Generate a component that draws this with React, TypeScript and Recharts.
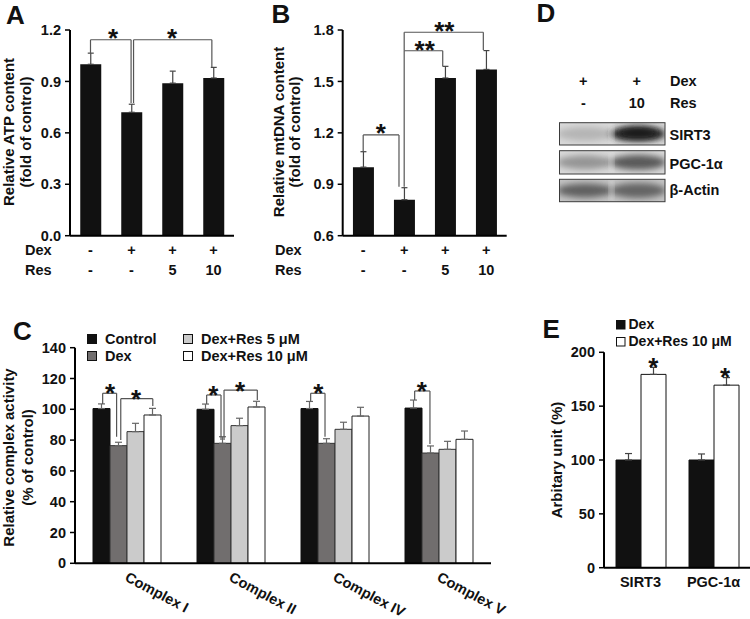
import React from "react";
import {
  BarChart,
  Bar,
  XAxis,
  YAxis,
  ErrorBar,
  ReferenceLine,
  ReferenceDot,
  Legend,
} from "recharts";

const FONT = "Arial, 'Liberation Sans', Helvetica, sans-serif";
const INK = "#111";
const LINE = "#555";

// ---- A / B : treatment groups ----
const treatments = ["Control", "Dex", "Dex+Res5", "Dex+Res10"];
const dexRow = ["-", "+", "+", "+"];
const resRow = ["-", "-", "5", "10"];

const atpMean = [1.0, 0.72, 0.89, 0.92];
const atpErr = [0.065, 0.047, 0.07, 0.062];
const atpTicks = [0, 0.3, 0.6, 0.9, 1.2];

const mtdnaMean = [1.0, 0.81, 1.52, 1.57];
const mtdnaErr = [0.09, 0.07, 0.068, 0.11];
const mtdnaTicks = [0.6, 0.9, 1.2, 1.5, 1.8];

// ---- C : complex activity ----
const complexes = ["Complex I", "Complex II", "Complex IV", "Complex V"];
const ctrlMean = [100.5, 100, 100.5, 100.8];
const ctrlErr = [3, 3.4, 4.6, 5.2];
const dexMean = [76.4, 77.9, 77.9, 71.6];
const dexErr = [2.2, 4.3, 3, 4.6];
const res5Mean = [85.5, 89.4, 87, 74];
const res5Err = [5.4, 4.8, 4.6, 5.2];
const res10Mean = [96.3, 101.5, 95.6, 80.5];
const res10Err = [4.3, 3.7, 5.7, 5.4];
const complexTicks = [0, 20, 40, 60, 80, 100, 120, 140];
const complexKeys = ["ctrl", "dex", "r5", "r10"];

// ---- E : densitometry ----
const proteins = ["SIRT3", "PGC-1α"];
const eDexMean = [100, 100];
const eDexErr = [6, 5.6];
const eResMean = [179.5, 169.5];
const eResErr = [6.5, 7];
const eTicks = [0, 50, 100, 150, 200];

// ---- D : blot ----
const blotRows = ["SIRT3", "PGC-1α", "β-Actin"];
const blotLane1 = [0.18, 0.35, 0.62];
const blotLane2 = [0.92, 0.66, 0.6];

// significance marks, x in category slots (0..n), y in data units
// bracket: [xLeft, yLeftFoot, yTop, xRight, yRightFoot]
const atpBrackets = [
  [0.5, 1.064, 1.143, 1.49, 0.774],
  [1.55, 0.774, 1.143, 3.46, 0.984],
];
const atpStars: [number, number, string][] = [
  [1.05, 1.183, "*"],
  [2.49, 1.183, "*"],
];
const mtdnaBrackets = [
  [0.5, 1.09, 1.188, 1.373, 0.886],
  [1.5, 0.886, 1.679, 2.44, 1.59],
  [1.5, 1.679, 1.787, 3.43, 1.683],
];
const mtdnaStars: [number, number, string][] = [
  [0.93, 1.23, "*"],
  [2.0, 1.718, "**"],
  [2.48, 1.825, "**"],
];
const complexBrackets = [
  [0.266, 103.4, 110.4, 0.4, 82.2],
  [0.44, 80.1, 106.9, 0.748, 102.1],
  [1.266, 103.4, 109.3, 1.404, 80.1],
  [1.433, 80.1, 112.5, 1.753, 106],
  [2.266, 105.2, 110.4, 2.404, 82.2],
  [3.266, 106, 111.9, 3.413, 77.5],
];
const complexStars: [number, number, string][] = [
  [0.337, 114.5, "*"],
  [0.587, 110.6, "*"],
  [1.33, 113.2, "*"],
  [1.587, 115.8, "*"],
  [2.34, 114, "*"],
  [3.334, 115.8, "*"],
];
const eStars: [number, number, string][] = [
  [0.675, 191.3, "*"],
  [1.66, 182, "*"],
];

const atpData = treatments.map((t, i) => ({ t, slot: i, v: atpMean[i], e: [0, atpErr[i]] }));
const mtdnaData = treatments.map((t, i) => ({ t, slot: i, v: mtdnaMean[i], e: [0, mtdnaErr[i]] }));
const complexData = complexes.map((c, i) => ({
  c,
  slot: i,
  ctrl: ctrlMean[i],
  ctrlE: [0, ctrlErr[i]],
  dex: dexMean[i],
  dexE: [0, dexErr[i]],
  r5: res5Mean[i],
  r5E: [0, res5Err[i]],
  r10: res10Mean[i],
  r10E: [0, res10Err[i]],
}));
const eData = proteins.map((p, i) => ({
  p,
  slot: i,
  dex: eDexMean[i],
  dexE: [0, eDexErr[i]],
  res: eResMean[i],
  resE: [0, eResErr[i]],
}));

const txt = { fontFamily: FONT, fontWeight: "bold" as const, fill: INK };
const tickStyle = { fontSize: 14.5, fontWeight: "bold", fill: INK, fontFamily: FONT };
const axisLine = { stroke: "#000", strokeWidth: 2 };
const tickLine = { stroke: "#000", strokeWidth: 1.5 };

function brackets(list: number[][], id: string) {
  return list.flatMap(([x1, y1, yt, x2, y2], i) => [
    <ReferenceLine key={`${id}${i}a`} xAxisId="n" segment={[{ x: x1, y: y1 }, { x: x1, y: yt }]} stroke={LINE} strokeWidth={1.2} ifOverflow="visible" />,
    <ReferenceLine key={`${id}${i}b`} xAxisId="n" segment={[{ x: x1, y: yt }, { x: x2, y: yt }]} stroke={LINE} strokeWidth={1.2} ifOverflow="visible" />,
    <ReferenceLine key={`${id}${i}c`} xAxisId="n" segment={[{ x: x2, y: yt }, { x: x2, y: y2 }]} stroke={LINE} strokeWidth={1.2} ifOverflow="visible" />,
  ]);
}

function stars(list: [number, number, string][], id: string, size = 26) {
  return list.map(([x, y, s], i) => (
    <ReferenceDot
      key={`${id}s${i}`}
      xAxisId="n"
      x={x}
      y={y}
      r={0}
      ifOverflow="visible"
      shape={(p: any) => (
        <text x={p.cx} y={p.cy + size * 0.56} textAnchor="middle" fontSize={size} {...txt}>
          {s}
        </text>
      )}
    />
  ));
}

const DoseTick = (p: any) => (
  <g>
    <text x={p.x} y={p.y + 19} textAnchor="middle" fontSize={14.5} {...txt}>
      {dexRow[p.index]}
    </text>
    <text x={p.x} y={p.y + 39} textAnchor="middle" fontSize={14.5} {...txt}>
      {resRow[p.index]}
    </text>
  </g>
);

const ComplexTick = (p: any) => (
  <text transform={`translate(${p.x - 3},${p.y + 17}) rotate(28)`} fontSize={14.5} {...txt}>
    {p.payload.value}
  </text>
);

const ProteinTick = (p: any) => (
  <text x={p.x} y={p.y + 19} textAnchor="middle" fontSize={14.5} {...txt}>
    {p.payload.value}
  </text>
);

function DoseChart({ data, domain, ticks, br, st, yWidth, right, id }: any) {
  return (
    <BarChart width={yWidth + 164 + right} height={300} data={data} margin={{ top: 30, right, bottom: 14.3, left: 0 }} barCategoryGap="25%">
      <XAxis dataKey="t" height={50} axisLine={axisLine} tickLine={false} tickSize={0} tickMargin={0} tick={DoseTick} interval={0} />
      <XAxis xAxisId="n" dataKey="slot" type="number" domain={[0, 4]} hide allowDataOverflow />
      <YAxis
        width={yWidth}
        domain={domain}
        ticks={ticks}
        allowDataOverflow
        tickFormatter={(v: number) => v.toFixed(1)}
        tick={tickStyle}
        axisLine={axisLine}
        tickLine={tickLine}
        tickSize={5}
        tickMargin={4}
      />
      <Bar dataKey="v" fill={INK} isAnimationActive={false}>
        <ErrorBar dataKey="e" width={3} stroke="#444" strokeWidth={1.2} direction="y" />
      </Bar>
      {brackets(br, id)}
      {stars(st, id)}
    </BarChart>
  );
}

const legendC = (props: any) => {
  const items = [...(props.payload || [])].sort(
    (a: any, b: any) => complexKeys.indexOf(a.dataKey) - complexKeys.indexOf(b.dataKey)
  );
  return (
    <svg width={510} height={70} style={{ display: "block", overflow: "visible" }}>
      {items.map((it: any, i: number) => {
        const col = Math.floor(i / 2);
        const row = i % 2;
        const x = col === 0 ? 87.5 : 183.5;
        const y = row === 0 ? 43.5 : 60.5;
        return (
          <g key={i}>
            <rect x={x} y={y - 9} width={9} height={9} fill={it.color} stroke="#111" strokeWidth={1} />
            <text x={x + 17.5} y={y} fontSize={14.5} {...txt}>
              {it.value}
            </text>
          </g>
        );
      })}
    </svg>
  );
};

const legendE = (props: any) => {
  const items = [...(props.payload || [])].sort((a: any, b: any) => (a.dataKey === "dex" ? -1 : 1) - (b.dataKey === "dex" ? -1 : 1));
  return (
    <svg width={220} height={60} style={{ display: "block", overflow: "visible" }}>
      {items.map((it: any, i: number) => {
        const y = i === 0 ? 29 : 46;
        return (
          <g key={i}>
            <rect x={86.5} y={y - 8.5} width={8.5} height={8.5} fill={it.color} stroke="#111" strokeWidth={1} />
            <text x={98.5} y={y} fontSize={14} {...txt}>
              {it.value}
            </text>
          </g>
        );
      })}
    </svg>
  );
};

function Blot() {
  const boxes = [
    [122.7, 145],
    [150.7, 174],
    [179.3, 201.7],
  ];
  const x0 = 559.5;
  const x1 = 665;
  const shade = (k: number) => {
    const g = Math.round(215 - k * 190);
    return `rgb(${g},${g},${g})`;
  };
  return (
    <g>
      <defs>
        <filter id="blur" x="-30%" y="-60%" width="160%" height="220%">
          <feGaussianBlur stdDeviation="3.2" />
        </filter>
        {boxes.map(([a, b], i) => (
          <clipPath key={i} id={`clip${i}`}>
            <rect x={x0} y={a} width={x1 - x0} height={b - a} />
          </clipPath>
        ))}
      </defs>
      {boxes.map(([a, b], i) => {
        const cy = (a + b) / 2;
        const bg = i === 2 ? "#c4c4c4" : "#d9d9d9";
        return (
          <g key={i}>
            <g clipPath={`url(#clip${i})`}>
              <rect x={x0} y={a} width={x1 - x0} height={b - a} fill={bg} />
              <ellipse cx={585} cy={cy} rx={28} ry={7} fill={shade(blotLane1[i])} filter="url(#blur)" />
              <ellipse cx={638} cy={cy} rx={28} ry={7.5} fill={shade(blotLane2[i])} filter="url(#blur)" />
              {i === 0 && <ellipse cx={638} cy={cy - 1} rx={20} ry={4.5} fill="#1a1a1a" filter="url(#blur)" />}
              <rect x={609.5} y={a} width={4} height={b - a} fill="#e6e6e6" opacity={0.6} filter="url(#blur)" />
            </g>
            <rect x={x0} y={a} width={x1 - x0} height={b - a} fill="none" stroke="#3a3a3a" strokeWidth={1} />
          </g>
        );
      })}
    </g>
  );
}

export default function App() {
  return (
    <div style={{ position: "absolute", left: 0, top: 0, width: 750, height: 619, background: "#fff", overflow: "hidden" }}>
      <div style={{ position: "absolute", left: 0, top: 0 }}>
        <DoseChart data={atpData} domain={[0, 1.2]} ticks={atpTicks} br={atpBrackets} st={atpStars} yWidth={70} right={16} id="a" />
      </div>
      <div style={{ position: "absolute", left: 250, top: 0 }}>
        <DoseChart data={mtdnaData} domain={[0.6, 1.8]} ticks={mtdnaTicks} br={mtdnaBrackets} st={mtdnaStars} yWidth={92.7} right={13} id="b" />
      </div>

      <div style={{ position: "absolute", left: 0, top: 300 }}>
        <BarChart width={510} height={319} data={complexData} margin={{ top: 47.7, right: 19, bottom: 5.7, left: 0 }} barCategoryGap={18} barGap={0}>
          <XAxis dataKey="c" height={50} axisLine={axisLine} tickLine={false} tickSize={0} tickMargin={0} tick={ComplexTick} interval={0} />
          <XAxis xAxisId="n" dataKey="slot" type="number" domain={[0, 4]} hide allowDataOverflow />
          <YAxis width={75} domain={[0, 140]} ticks={complexTicks} tick={tickStyle} axisLine={axisLine} tickLine={tickLine} tickSize={5} tickMargin={4} />
          <Legend layout="horizontal" verticalAlign="middle" align="center" wrapperStyle={{ left: 0, top: 0, width: 510, height: 70 }} content={legendC} />
          <Bar dataKey="ctrl" name="Control" fill="#111" stroke="#111" strokeWidth={1} isAnimationActive={false}>
            <ErrorBar dataKey="ctrlE" width={3.5} stroke="#666" strokeWidth={1.2} direction="y" />
          </Bar>
          <Bar dataKey="dex" name="Dex" fill="#716e6e" stroke="#333" strokeWidth={1} isAnimationActive={false}>
            <ErrorBar dataKey="dexE" width={3.5} stroke="#666" strokeWidth={1.2} direction="y" />
          </Bar>
          <Bar dataKey="r5" name="Dex+Res 5 μM" fill="#cbcbcb" stroke="#333" strokeWidth={1} isAnimationActive={false}>
            <ErrorBar dataKey="r5E" width={3.5} stroke="#666" strokeWidth={1.2} direction="y" />
          </Bar>
          <Bar dataKey="r10" name="Dex+Res 10 μM" fill="#fff" stroke="#222" strokeWidth={1} isAnimationActive={false}>
            <ErrorBar dataKey="r10E" width={3.5} stroke="#666" strokeWidth={1.2} direction="y" />
          </Bar>
          {brackets(complexBrackets, "c")}
          {stars(complexStars, "c")}
        </BarChart>
      </div>

      <div style={{ position: "absolute", left: 530, top: 300 }}>
        <BarChart width={220} height={319} data={eData} margin={{ top: 52.3, right: 0, bottom: 11.3, left: 0 }} barCategoryGap={12} barGap={0}>
          <XAxis dataKey="p" height={40} axisLine={axisLine} tickLine={false} tickSize={0} tickMargin={0} tick={ProteinTick} interval={0} />
          <XAxis xAxisId="n" dataKey="slot" type="number" domain={[0, 2]} hide allowDataOverflow />
          <YAxis width={74} domain={[0, 200]} ticks={eTicks} tick={tickStyle} axisLine={axisLine} tickLine={tickLine} tickSize={5} tickMargin={4} />
          <Legend layout="horizontal" verticalAlign="middle" align="center" wrapperStyle={{ left: 0, top: 0, width: 220, height: 60 }} content={legendE} />
          <Bar dataKey="dex" name="Dex" fill="#111" stroke="#111" strokeWidth={1} isAnimationActive={false}>
            <ErrorBar dataKey="dexE" width={3.5} stroke="#444" strokeWidth={1.2} direction="y" />
          </Bar>
          <Bar dataKey="res" name="Dex+Res 10 μM" fill="#fff" stroke="#111" strokeWidth={1} isAnimationActive={false}>
            <ErrorBar dataKey="resE" width={3.5} stroke="#444" strokeWidth={1.2} direction="y" />
          </Bar>
          {stars(eStars, "e")}
        </BarChart>
      </div>

      <svg width={750} height={619} style={{ position: "absolute", left: 0, top: 0, pointerEvents: "none" }}>
        <g fontSize={26} {...txt}>
          <text x={6} y={24}>A</text>
          <text x={271.5} y={23}>B</text>
          <text x={536.5} y={22}>D</text>
          <text x={13} y={340}>C</text>
          <text x={542.5} y={338}>E</text>
        </g>
        <g fontSize={15} {...txt} textAnchor="middle">
          <text transform="translate(14,132) rotate(-90)">Relative ATP content</text>
          <text transform="translate(30.5,132) rotate(-90)">(fold of control)</text>
          <text transform="translate(284,132) rotate(-90)">Relative mtDNA content</text>
          <text transform="translate(300,132) rotate(-90)">(fold of control)</text>
          <text transform="translate(14,457.5) rotate(-90)">Relative complex activity</text>
          <text transform="translate(33,457.5) rotate(-90)">(% of control)</text>
          <text transform="translate(561.5,460) rotate(-90)">Arbitary unit (%)</text>
        </g>
        <g fontSize={14.5} {...txt}>
          <text x={25} y={254.5}>Dex</text>
          <text x={25} y={274.5}>Res</text>
          <text x={275} y={254.5}>Dex</text>
          <text x={275} y={274.5}>Res</text>
          <text x={583.3} y={85.5} textAnchor="middle">+</text>
          <text x={636.7} y={85.5} textAnchor="middle">+</text>
          <text x={670} y={85.5}>Dex</text>
          <text x={583.3} y={108} textAnchor="middle">-</text>
          <text x={636.7} y={108} textAnchor="middle">10</text>
          <text x={670} y={108}>Res</text>
          <text x={669.5} y={140}>{blotRows[0]}</text>
          <text x={669.5} y={168.5}>{blotRows[1]}</text>
          <text x={669.5} y={194.5}>{blotRows[2]}</text>
        </g>
        <Blot />
      </svg>
    </div>
  );
}
